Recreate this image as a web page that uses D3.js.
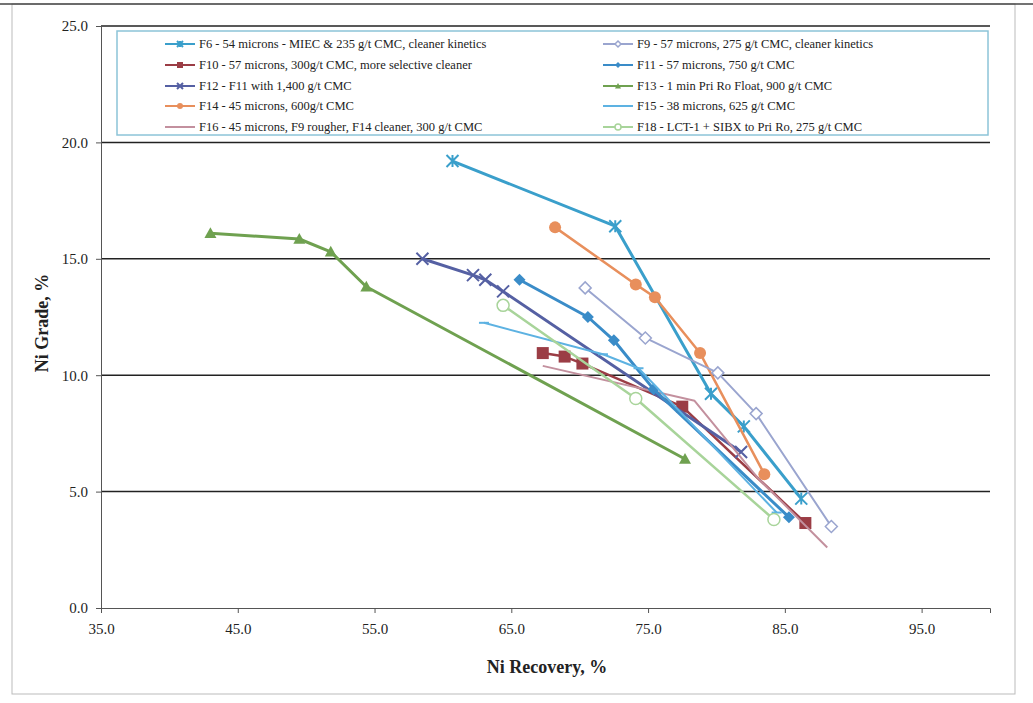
<!DOCTYPE html>
<html lang="en">
<head>
<meta charset="utf-8">
<title>Ni Grade vs Recovery</title>
<script src="https://d3js.org/d3.v7.min.js"></script>
<style>
  body { margin: 0; background: #fff; }
  text { font-family: "Liberation Serif", "Times New Roman", serif; fill: #222; }
  .axis path, .axis line { stroke: #555; }
</style>
</head>
<body>
<div id="chart"></div>
<script>
const W = 1033, H = 703;

// series names (legend order: left column then right column)
const names = [
  "F6 - 54 microns - MIEC & 235 g/t CMC, cleaner kinetics",
  "F10 - 57 microns, 300g/t CMC, more selective cleaner",
  "F12 - F11 with 1,400 g/t CMC",
  "F14 - 45 microns, 600g/t CMC",
  "F16 - 45 microns, F9 rougher, F14 cleaner, 300 g/t CMC",
  "F9 - 57 microns, 275 g/t CMC, cleaner kinetics",
  "F11 - 57 microns, 750 g/t CMC",
  "F13 - 1 min Pri Ro Float, 900 g/t CMC",
  "F15 - 38 microns, 625 g/t CMC",
  "F18 - LCT-1 + SIBX to Pri Ro, 275 g/t CMC"
];
const colors = ["#3a9fcb", "#9b3d45", "#5560a3", "#e88f5c", "#c3909e",
                "#9aa5cf", "#3a8cc8", "#6fa150", "#5db2e2", "#a8d49a"];
const markers = ["star", "square", "cross", "circle", "none",
                 "diamondOpen", "diamond", "triangle", "dash", "circleOpen"];

// recovery (x) and grade (y) per series
const f6x  = [60.7, 72.6, 79.6, 82.0, 86.2];
const f6y  = [19.2, 16.4, 9.2, 7.8, 4.7];
const f10x = [67.3, 68.9, 70.2, 77.5, 86.5];
const f10y = [10.95, 10.8, 10.5, 8.65, 3.65];
const f12x = [58.5, 62.2, 63.1, 64.4, 81.8];
const f12y = [15.0, 14.3, 14.1, 13.6, 6.7];
const f14x = [68.2, 74.1, 75.5, 78.8, 83.5];
const f14y = [16.35, 13.9, 13.35, 10.95, 5.75];
const f16x = [67.3, 78.4, 83.0, 88.1];
const f16y = [10.4, 8.9, 5.6, 2.6];
const f9x  = [70.4, 74.8, 80.1, 82.9, 88.4];
const f9y  = [13.75, 11.6, 10.1, 8.35, 3.5];
const f11x = [65.6, 70.6, 72.5, 75.4, 85.3];
const f11y = [14.1, 12.5, 11.5, 9.4, 3.9];
const f13x = [43.0, 49.5, 51.8, 54.4, 77.7];
const f13y = [16.1, 15.85, 15.3, 13.8, 6.4];
const f15x = [63.0, 71.7, 74.3, 84.4];
const f15y = [12.25, 10.9, 10.3, 4.1];
const f18x = [64.4, 74.1, 84.2];
const f18y = [13.0, 9.0, 3.8];

const xs = [f6x, f10x, f12x, f14x, f16x, f9x, f11x, f13x, f15x, f18x];
const ys = [f6y, f10y, f12y, f14y, f16y, f9y, f11y, f13y, f15y, f18y];
const widths = [3, 2.5, 3, 2.5, 2, 2, 3, 3, 2, 2.5];

const xTicks = [35, 45, 55, 65, 75, 85, 95];
const yTicks = [0, 5, 10, 15, 20, 25];

const svg = d3.select("#chart").append("svg")
  .attr("width", W).attr("height", H);

// outer frame
svg.append("rect").attr("x", 12).attr("y", 4).attr("width", 1003).attr("height", 690)
  .attr("fill", "none").attr("stroke", "#bbb");
svg.append("line").attr("x1", 0).attr("x2", W).attr("y1", 4).attr("y2", 4)
  .attr("stroke", "#444").attr("stroke-width", 1.5);

const xScale = d3.scaleLinear().domain([35, 100]).range([101, 990]);
const yScale = d3.scaleLinear().domain([0, 25]).range([608, 26]);

// horizontal gridlines
svg.append("g").selectAll("line")
  .data(yTicks.filter(d => d > 0))
  .enter().append("line")
  .attr("x1", xScale(35)).attr("x2", xScale(100))
  .attr("y1", d => yScale(d)).attr("y2", d => yScale(d))
  .attr("stroke", "#222").attr("stroke-width", 1.5);

// axes
const xAxis = d3.axisBottom(xScale).tickValues(xTicks).tickSize(5)
  .tickFormat(d => d.toFixed(1)).tickPadding(10);
svg.append("g").attr("class", "axis")
  .attr("transform", `translate(0, ${yScale(0)})`)
  .call(xAxis)
  .call(g => g.selectAll("text").attr("font-size", 15));

const yAxis = d3.axisLeft(yScale).tickValues(yTicks).tickSize(5)
  .tickFormat(d => d.toFixed(1)).tickPadding(8);
svg.append("g").attr("class", "axis")
  .attr("transform", `translate(${xScale(35)}, 0)`)
  .call(yAxis)
  .call(g => g.selectAll("text").attr("font-size", 15));

// axis titles
svg.append("text").attr("x", 547).attr("y", 673).attr("text-anchor", "middle")
  .attr("font-size", 18).attr("font-weight", "bold").text("Ni Recovery, %");
svg.append("text").attr("transform", "translate(48, 323) rotate(-90)")
  .attr("text-anchor", "middle").attr("font-size", 18).attr("font-weight", "bold")
  .text("Ni Grade, %");

function drawMarker(g, type, color, size) {
  const s = size;
  if (type === "square") {
    g.append("rect").attr("x", -s).attr("y", -s).attr("width", 2 * s).attr("height", 2 * s)
      .attr("fill", color);
  } else if (type === "circle") {
    g.append("circle").attr("r", s).attr("fill", color);
  } else if (type === "circleOpen") {
    g.append("circle").attr("r", s).attr("fill", "#fff").attr("stroke", color).attr("stroke-width", 1.5);
  } else if (type === "diamond") {
    g.append("path").attr("d", `M0,${-s}L${s},0L0,${s}L${-s},0Z`).attr("fill", color);
  } else if (type === "diamondOpen") {
    g.append("path").attr("d", `M0,${-s}L${s},0L0,${s}L${-s},0Z`)
      .attr("fill", "#fff").attr("stroke", color).attr("stroke-width", 1.5);
  } else if (type === "triangle") {
    g.append("path").attr("d", `M0,${-s}L${s},${s * 0.8}L${-s},${s * 0.8}Z`).attr("fill", color);
  } else if (type === "cross") {
    g.append("path").attr("d", `M${-s},${-s}L${s},${s}M${-s},${s}L${s},${-s}`)
      .attr("stroke", color).attr("stroke-width", 2);
  } else if (type === "star") {
    g.append("path").attr("d", `M${-s},${-s}L${s},${s}M${-s},${s}L${s},${-s}M0,${-s}L0,${s}`)
      .attr("stroke", color).attr("stroke-width", 2);
  } else if (type === "dash") {
    g.append("path").attr("d", `M${-s},0L${s},0`).attr("stroke", color).attr("stroke-width", 2);
  }
}

const line = d3.line().x(d => xScale(d[0])).y(d => yScale(d[1]));
const plot = svg.append("g");
names.forEach((name, i) => {
  const pts = xs[i].map((x, j) => [x, ys[i][j]]);
  const g = plot.append("g");
  g.append("path").datum(pts).attr("d", line)
    .attr("fill", "none").attr("stroke", colors[i])
    .attr("stroke-width", widths[i]).attr("stroke-linejoin", "round");
  pts.forEach(p => {
    const m = g.append("g").attr("transform", `translate(${xScale(p[0])}, ${yScale(p[1])})`);
    const sz = markers[i] === "square" ? 6 : markers[i] === "dash" ? 5 : 6;
    drawMarker(m, markers[i], colors[i], sz);
  });
});

// legend
svg.append("rect").attr("x", 117).attr("y", 31).attr("width", 871).attr("height", 104)
  .attr("fill", "#fff").attr("stroke", "#8cc4d8").attr("stroke-width", 1.5);
const rowY = [44, 65, 86, 106, 127];
names.forEach((name, i) => {
  const col = i < 5 ? 0 : 1;
  const row = i % 5;
  const lx = col === 0 ? 165 : 603;
  const g = svg.append("g").attr("transform", `translate(${lx}, ${rowY[row]})`);
  g.append("line").attr("x1", 0).attr("x2", 30).attr("y1", 0).attr("y2", 0)
    .attr("stroke", colors[i]).attr("stroke-width", 2);
  const m = g.append("g").attr("transform", "translate(15, 0)");
  drawMarker(m, markers[i], colors[i], 3);
  g.append("text").attr("x", 34).attr("y", 4).attr("font-size", 12.5).text(name);
});
</script>
</body>
</html>
